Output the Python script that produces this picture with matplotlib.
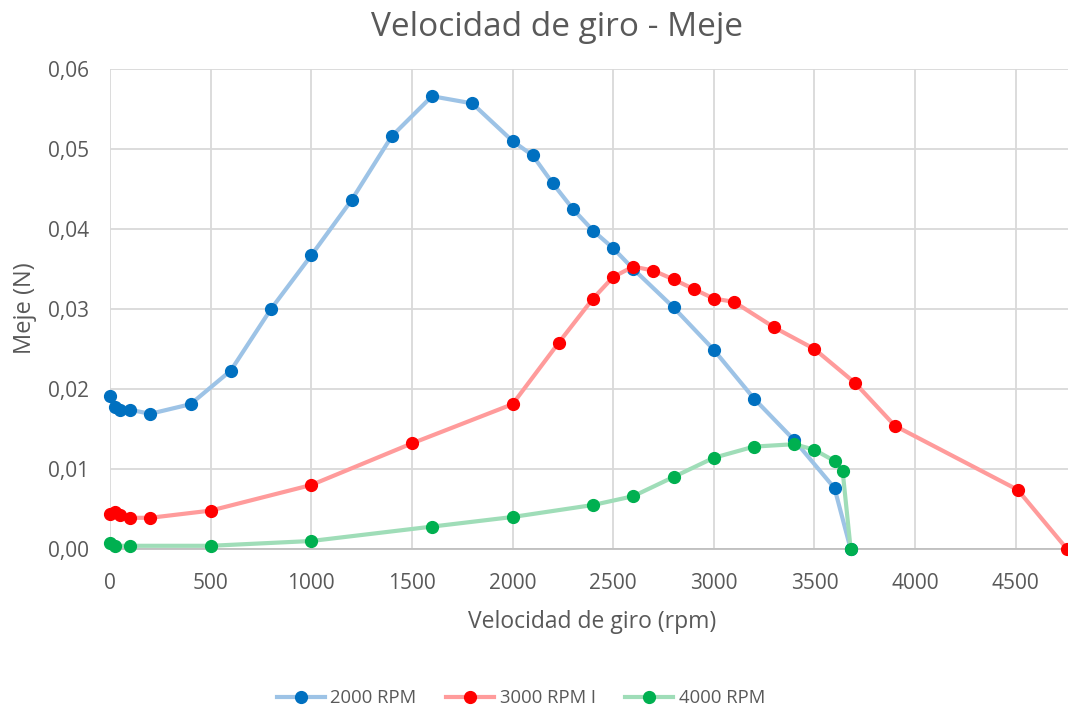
import matplotlib
matplotlib.use("Agg")
import matplotlib.pyplot as plt
from matplotlib.ticker import FuncFormatter, MultipleLocator

plt.rcParams['font.family'] = ['Open Sans', 'DejaVu Sans']

# Data
x_2000 = [0, 25, 50, 100, 200, 400, 600, 800, 1000, 1200, 1400, 1600, 1800, 2000, 2100,
          2200, 2300, 2400, 2500, 2600, 2800, 3000, 3200, 3400, 3600, 3680]
y_2000 = [0.0191, 0.0177, 0.0174, 0.0174, 0.0169, 0.0181, 0.0223, 0.0300, 0.0367, 0.0436,
          0.0516, 0.0566, 0.0557, 0.0510, 0.0492, 0.0457, 0.0425, 0.0398, 0.0376, 0.0350,
          0.0302, 0.0249, 0.0188, 0.0136, 0.0076, 0.0000]

x_3000 = [0, 25, 50, 100, 200, 500, 1000, 1500, 2000, 2230, 2400, 2500, 2600, 2700, 2800,
          2900, 3000, 3100, 3300, 3500, 3700, 3900, 4510, 4755]
y_3000 = [0.0044, 0.0046, 0.0043, 0.0039, 0.0039, 0.0048, 0.0080, 0.0132, 0.0181, 0.0258,
          0.0313, 0.0340, 0.0353, 0.0348, 0.0337, 0.0325, 0.0313, 0.0309, 0.0277, 0.0250,
          0.0208, 0.0154, 0.0074, 0.0000]

x_4000 = [0, 25, 100, 500, 1000, 1600, 2000, 2400, 2600, 2800, 3000, 3200, 3400, 3500,
          3600, 3640, 3680]
y_4000 = [0.0008, 0.0004, 0.0004, 0.0004, 0.0010, 0.0028, 0.0040, 0.0055, 0.0066, 0.0090,
          0.0114, 0.0128, 0.0131, 0.0124, 0.0110, 0.0098, 0.0000]

labels = ["2000 RPM", "3000 RPM I", "4000 RPM"]
x_ticks = [0, 500, 1000, 1500, 2000, 2500, 3000, 3500, 4000, 4500]

text_col = "#595959"
fig = plt.figure(figsize=(10.68, 7.13), dpi=100)
ax = fig.add_axes([110/1068, 1 - 549/713, (1068-110)/1068, (549-69)/713])

series = [
    (x_2000, y_2000, "#9DC3E6", "#0070C0", labels[0]),
    (x_3000, y_3000, "#FF9B9B", "#FF0000", labels[1]),
    (x_4000, y_4000, "#9FDDB8", "#00B050", labels[2]),
]
for xs, ys, lc, mc, lab in series:
    ax.plot(xs, ys, color=lc, lw=3, marker='o', markersize=8.5,
            markerfacecolor=mc, markeredgecolor=mc, label=lab, clip_on=False, zorder=3)

ax.set_xlim(0, 4760)
ax.set_ylim(0, 0.06)
ax.set_xticks(x_ticks)
ax.yaxis.set_major_locator(MultipleLocator(0.01))
ax.yaxis.set_major_formatter(FuncFormatter(lambda v, p: f"{v:.2f}".replace('.', ',')))
ax.grid(True, color="#D9D9D9", lw=1.3)
ax.set_axisbelow(True)
for s in ['top', 'right', 'left']:
    ax.spines[s].set_visible(False)
ax.spines['bottom'].set_color("#BFBFBF")
ax.spines['bottom'].set_linewidth(1.3)
ax.tick_params(axis='both', length=0, labelsize=15, labelcolor=text_col)
ax.tick_params(axis='x', pad=17)
ax.tick_params(axis='y', pad=15)

fig.text(557/1068, 1 - 27/713, "Velocidad de giro - Meje", ha='center', va='center',
         fontsize=24, color=text_col)
fig.text(25/1068, 1 - 308/713, "Meje (N)", ha='center', va='center', rotation=90,
         fontsize=17, color=text_col)
fig.text(592/1068, 1 - 622/713, "Velocidad de giro (rpm)", ha='center', va='center',
         fontsize=16.5, color=text_col)

fig.legend(loc='center', bbox_to_anchor=(521/1068, 1 - 698/713), ncol=3, frameon=False,
           fontsize=13.3, labelcolor=text_col, handlelength=2.6, columnspacing=1.6,
           handletextpad=0.3)

fig.savefig("out.png", dpi=100)
